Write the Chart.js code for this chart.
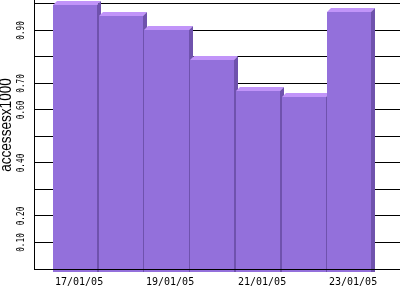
<!DOCTYPE html>
<html>
<head>
<meta charset="utf-8">
<script src="https://cdn.jsdelivr.net/npm/chart.js@4.4.0/dist/chart.umd.min.js"></script>
<style>
  html, body { margin: 0; padding: 0; background: #fff; }
</style>
</head>
<body>
<canvas id="graph" width="400" height="300"></canvas>
<script>
// =======================
// Données
// =======================
const dates = ["17/01/05", "18/01/05", "19/01/05", "20/01/05", "21/01/05", "22/01/05", "23/01/05"];
const accesses = [0.995, 0.955, 0.902, 0.789, 0.672, 0.650, 0.970]; // en milliers
const yTickLabels = ["0.10", "0.20", "0.40", "0.60", "0.70", "0.90"];
const yTitle = "accessesx1000";

const FRONT = "#9370db";
const TOP = "#c194f9";
const SIDE = "#6f52ad";
const DEPTH = 4;

// =======================
// Barres en 3D + textes
// =======================
const bar3d = {
  id: "bar3d",
  afterDatasetsDraw(chart) {
    const ctx = chart.ctx;
    const meta = chart.getDatasetMeta(0);
    const yScale = chart.scales.y;
    const area = chart.chartArea;

    ctx.save();
    meta.data.forEach(bar => {
      const left = Math.round(bar.x - bar.width / 2);
      const right = Math.round(bar.x + bar.width / 2);
      const top = Math.round(bar.y);
      const base = Math.round(bar.base) + 3;

      // face avant
      ctx.fillStyle = FRONT;
      ctx.fillRect(left, top, right - left, base - top);

      // dessus
      ctx.fillStyle = TOP;
      ctx.beginPath();
      ctx.moveTo(left, top);
      ctx.lineTo(left + DEPTH, top - DEPTH);
      ctx.lineTo(right + DEPTH, top - DEPTH);
      ctx.lineTo(right, top);
      ctx.closePath();
      ctx.fill();

      // côté
      ctx.fillStyle = SIDE;
      ctx.beginPath();
      ctx.moveTo(right, top);
      ctx.lineTo(right + DEPTH, top - DEPTH);
      ctx.lineTo(right + DEPTH, base);
      ctx.lineTo(right, base);
      ctx.closePath();
      ctx.fill();
    });

    // axe du bas, par-dessus les barres
    const y0 = Math.round(yScale.getPixelForValue(0)) + 0.5;
    ctx.strokeStyle = "#000";
    ctx.lineWidth = 1;
    ctx.beginPath();
    ctx.moveTo(area.left, y0);
    ctx.lineTo(area.right, y0);
    ctx.stroke();

    // étiquettes des dates (une sur deux, alignées sur le bord gauche)
    ctx.fillStyle = "#000";
    ctx.font = "10px 'DejaVu Sans Mono', monospace";
    ctx.textAlign = "left";
    ctx.textBaseline = "middle";
    dates.forEach((d, i) => {
      if (i % 2) return;
      const bar = meta.data[i];
      ctx.fillText(d, Math.round(bar.x - bar.width / 2) + 2, 282);
    });

    // étiquettes de l'axe y (tournées)
    yTickLabels.forEach(lbl => {
      const py = yScale.getPixelForValue(parseFloat(lbl));
      ctx.save();
      ctx.translate(21, py);
      ctx.rotate(-Math.PI / 2);
      ctx.scale(0.7, 1);
      ctx.font = "11px 'DejaVu Sans Mono', monospace";
      ctx.textAlign = "center";
      ctx.textBaseline = "middle";
      ctx.fillText(lbl, 0, 0);
      ctx.restore();
    });

    // titre de l'axe y
    ctx.save();
    ctx.translate(7, 125);
    ctx.rotate(-Math.PI / 2);
    ctx.scale(0.85, 1);
    ctx.font = "16px 'Liberation Sans', sans-serif";
    ctx.textAlign = "center";
    ctx.textBaseline = "middle";
    ctx.fillText(yTitle, 0, 0);
    ctx.restore();

    ctx.restore();
  }
};

new Chart(document.getElementById("graph"), {
  type: "bar",
  data: {
    datasets: [{
      data: accesses.map((v, i) => ({ x: i, y: v })),
      backgroundColor: FRONT,
      borderWidth: 0,
      barPercentage: 0.965,
      categoryPercentage: 1
    }]
  },
  options: {
    responsive: false,
    devicePixelRatio: 1,
    animation: false,
    layout: { padding: { left: 34, top: 0, right: 0, bottom: 31 } },
    plugins: {
      legend: { display: false },
      tooltip: { enabled: false }
    },
    scales: {
      x: {
        type: "linear",
        min: -0.902,
        max: 7.112,
        offset: false,
        display: false
      },
      y: {
        min: 0,
        max: 1.015,
        ticks: { display: false, stepSize: 0.1, includeBounds: false },
        grid: { color: "#000", drawTicks: false, lineWidth: 1 },
        border: { display: true, color: "#000", width: 1 }
      }
    }
  },
  plugins: [bar3d]
});
</script>
</body>
</html>
